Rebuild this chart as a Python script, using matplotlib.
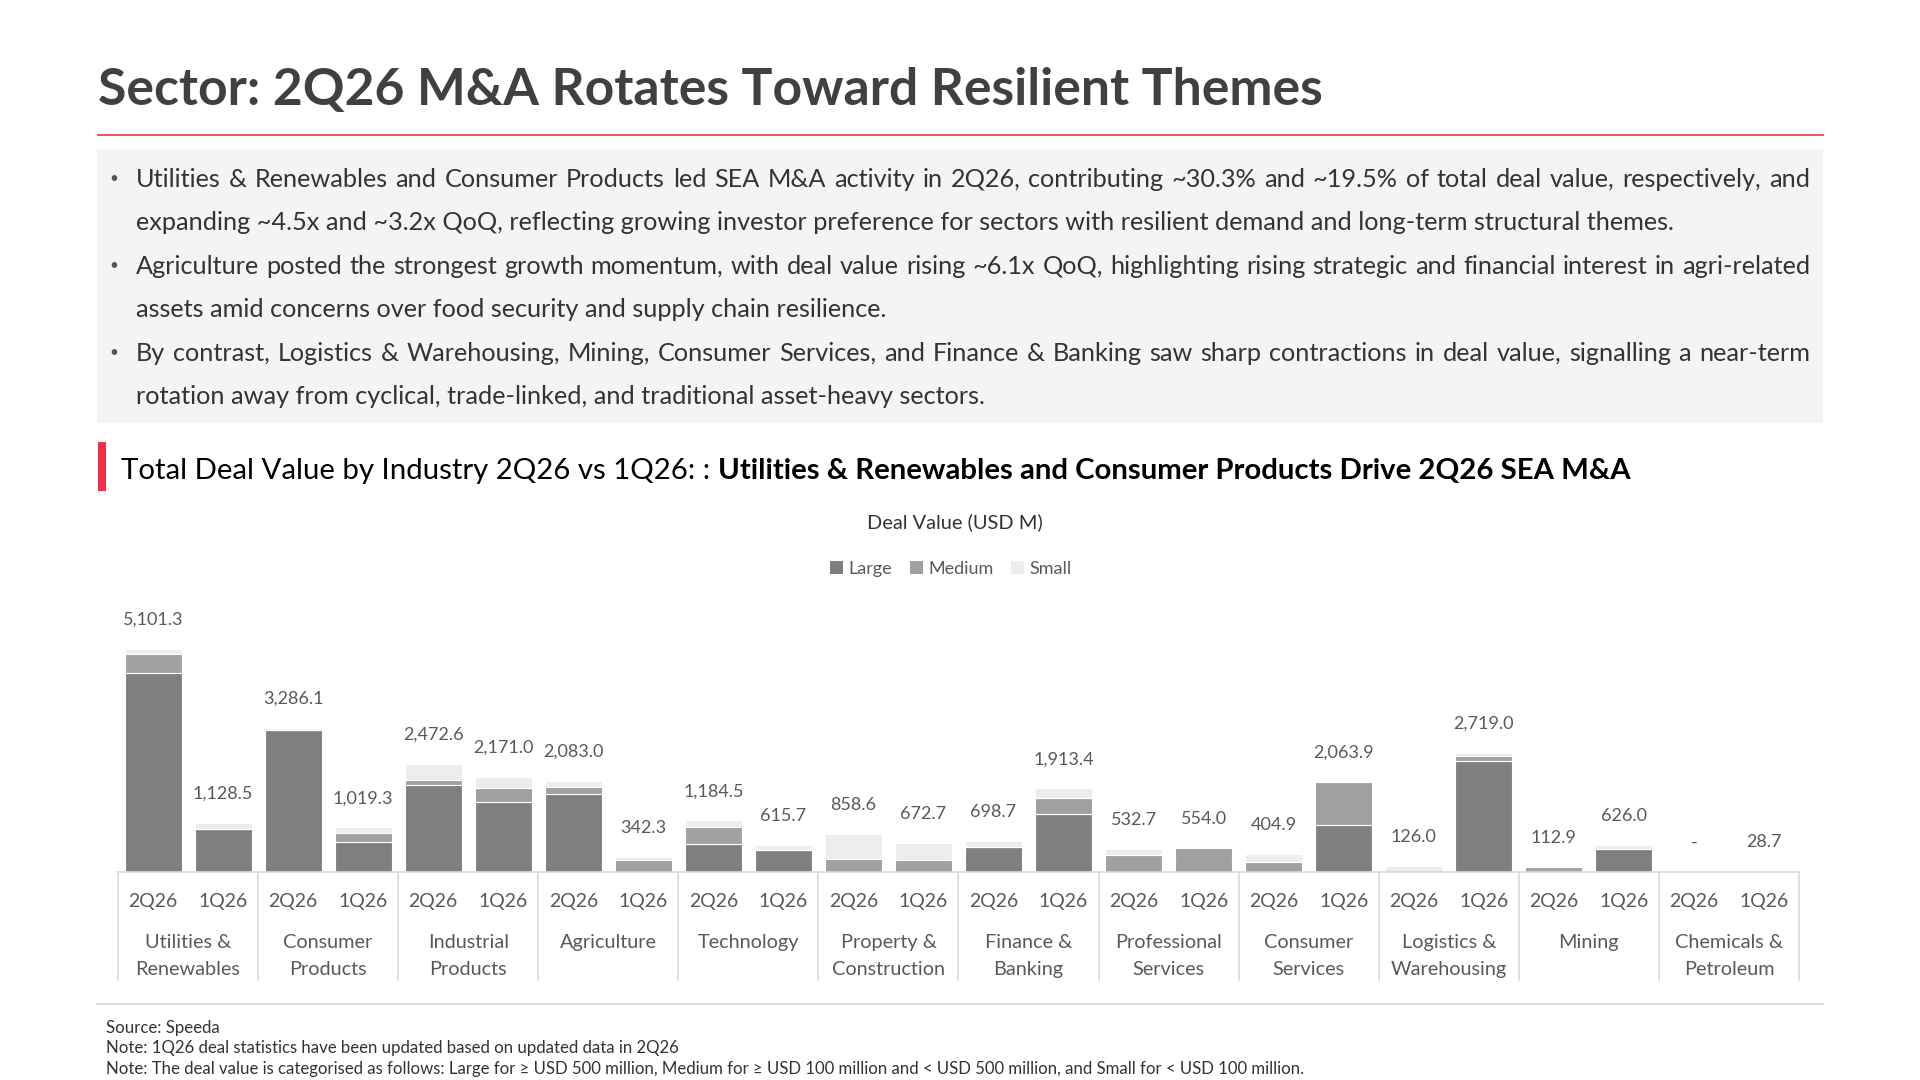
import matplotlib
matplotlib.use("Agg")
import matplotlib.pyplot as plt
from matplotlib.patches import Patch, Rectangle
from matplotlib.lines import Line2D
import numpy as np

FONT = ['Lato', 'DejaVu Sans']
plt.rcParams['font.family'] = FONT

# ---- data (USD M) ----
categories = ["Utilities &\nRenewables", "Consumer\nProducts", "Industrial\nProducts", "Agriculture",
              "Technology", "Property &\nConstruction", "Finance &\nBanking", "Professional\nServices",
              "Consumer\nServices", "Logistics &\nWarehousing", "Mining", "Chemicals &\nPetroleum"]
periods = ["2Q26", "1Q26"]

totals_2q = [5101.3, 3286.1, 2472.6, 2083.0, 1184.5, 858.6, 698.7, 532.7, 404.9, 126.0, 112.9, 0.0]
totals_1q = [1128.5, 1019.3, 2171.0, 342.3, 615.7, 672.7, 1913.4, 554.0, 2063.9, 2719.0, 626.0, 28.7]

large_2q = [4553, 3245, 1995, 1782, 647, 0, 571, 0, 0, 0, 0, 0]
medium_2q = [420, 0, 100, 152, 381, 305, 0, 388, 221, 0, 112.9, 0]
small_2q = [128.3, 41.1, 377.6, 149.0, 156.5, 553.6, 127.7, 144.7, 183.9, 126.0, 0, 0]

large_1q = [990, 693, 1591, 0, 495, 0, 1317, 0, 1074, 2528, 525, 0]
medium_1q = [0, 198, 320, 274, 0, 274, 381, 554, 990, 114, 0, 0]
small_1q = [138.5, 128.3, 260, 68.3, 120.7, 398.7, 215.4, 0, 0, 77, 101, 28.7]

seg_colors = {"Large": "#7f7f7f", "Medium": "#a0a0a0", "Small": "#ededed"}

title = "Sector: 2Q26 M&A Rotates Toward Resilient Themes"
subtitle_a = "Total Deal Value by Industry 2Q26 vs 1Q26: : "
subtitle_b = "Utilities & Renewables and Consumer Products Drive 2Q26 SEA M&A"
bullets = [
    ("Utilities & Renewables and Consumer Products led SEA M&A activity in 2Q26, contributing ~30.3% and ~19.5% of total deal value, respectively, and", True, True),
    ("expanding ~4.5x and ~3.2x QoQ, reflecting growing investor preference for sectors with resilient demand and long-term structural themes.", False, False),
    ("Agriculture posted the strongest growth momentum, with deal value rising ~6.1x QoQ, highlighting rising strategic and financial interest in agri-related", True, True),
    ("assets amid concerns over food security and supply chain resilience.", False, False),
    ("By contrast, Logistics & Warehousing, Mining, Consumer Services, and Finance & Banking saw sharp contractions in deal value, signalling a near-term", True, True),
    ("rotation away from cyclical, trade-linked, and traditional asset-heavy sectors.", False, False),
]
notes = ["Source: Speeda",
         "Note: 1Q26 deal statistics have been updated based on updated data in 2Q26",
         "Note: The deal value is categorised as follows: Large for \u2265 USD 500 million, Medium for \u2265 USD 100 million and < USD 500 million, and Small for < USD 100 million."]

W, H = 1920, 1080
fig = plt.figure(figsize=(W / 100, H / 100), dpi=100)
fig.patch.set_facecolor("white")
renderer = fig.canvas.get_renderer()


def fx(px):
    return px / W


def fy(py):
    return 1 - py / H


def width_px(s, size, weight="normal"):
    t = fig.text(0, 0, s, fontsize=size, fontweight=weight)
    w = t.get_window_extent(renderer).width
    t.remove()
    return w


def fit_size(s, target, weight="normal"):
    return 20 * target / width_px(s, 20, weight)


# ---- header ----
ts = fit_size(title, 1224, "bold")
fig.text(fx(98), fy(105), title, fontsize=ts, fontweight="bold", color="#404040", va="baseline")
fig.add_artist(Line2D([fx(98), fx(1823)], [fy(135), fy(135)], color="#e8455c", lw=1.3))

# grey summary box
fig.add_artist(Rectangle((fx(97), fy(423)), fx(1823) - fx(97), fy(149) - fy(423),
                         facecolor="#f4f4f4", edgecolor="none"))

bs = fit_size(bullets[1][0], 1545)
left, right = 136, 1810
for i, (line, has_dot, justify) in enumerate(bullets):
    base = 187 + i * 43.4
    if has_dot:
        fig.text(fx(114), fy(base - 4), "\u2022", fontsize=bs * 0.6, color="#555555", va="baseline", ha="center")
    if justify:
        words = line.split(" ")
        widths = [width_px(w, bs) for w in words]
        gap = (right - left - sum(widths)) / (len(words) - 1)
        x = left
        for w, wd in zip(words, widths):
            fig.text(fx(x), fy(base), w, fontsize=bs, color="#333333", va="baseline")
            x += wd + gap
    else:
        fig.text(fx(left), fy(base), line, fontsize=bs, color="#333333", va="baseline")

# sub-heading
fig.add_artist(Rectangle((fx(98), fy(491)), fx(106) - fx(98), fy(442) - fy(491),
                         facecolor="#f2304a", edgecolor="none"))
ss = 20 * 1509 / (width_px(subtitle_a, 20) + width_px(subtitle_b, 20, "bold"))
fig.text(fx(121), fy(479), subtitle_a, fontsize=ss, color="black", va="baseline")
fig.text(fx(121 + width_px(subtitle_a, ss)), fy(479), subtitle_b, fontsize=ss,
         fontweight="bold", color="black", va="baseline")

fig.text(fx(955), fy(522), "Deal Value (USD M)", fontsize=fit_size("Deal Value (USD M)", 176),
         color="#333333", ha="center", va="center")

handles = [Patch(facecolor=c, edgecolor="none", label=k) for k, c in seg_colors.items()]
leg = fig.legend(handles=handles, loc="center", bbox_to_anchor=(fx(951), fy(569)), ncol=3,
                 frameon=False, fontsize=13, handlelength=0.7, handleheight=0.7,
                 handletextpad=0.3, columnspacing=1.0)
for t in leg.get_texts():
    t.set_color("#595959")

# ---- chart ----
ax_l, ax_r, ax_b, ax_t = 118, 1799, 872, 480
ax = fig.add_axes([fx(ax_l), fy(ax_b), fx(ax_r) - fx(ax_l), fy(ax_t) - fy(ax_b)])
per_px = 5101.3 / 223.4
ax.set_ylim(0, (ax_b - ax_t) * per_px)
ax.set_xlim(0, len(categories))
n = len(categories)
xc = np.arange(n) + 0.5
off = 35 / 140
bw = 57 / 140

series = [(periods[0], xc - off, large_2q, medium_2q, small_2q, totals_2q),
          (periods[1], xc + off, large_1q, medium_1q, small_1q, totals_1q)]
for per, xs, lg, md, sm, tot in series:
    lg = np.array(lg, float)
    md = np.array(md, float)
    sm = np.array(sm, float)
    ax.bar(xs, lg, bw, color=seg_colors["Large"], edgecolor="white", linewidth=0.8)
    ax.bar(xs, md, bw, bottom=lg, color=seg_colors["Medium"], edgecolor="white", linewidth=0.8)
    ax.bar(xs, sm, bw, bottom=lg + md, color=seg_colors["Small"], edgecolor="white", linewidth=0.8)
    for x, v in zip(xs, tot):
        lab = f"{v:,.1f}" if v > 0 else "-"
        ax.annotate(lab, (x, v), xytext=(0, 29 * 0.72), textcoords="offset points",
                    ha="center", va="center", fontsize=13, color="#595959")
        ax.annotate(per, (x, 0), xytext=(0, -30 * 0.72), textcoords="offset points",
                    ha="center", va="center", fontsize=14, color="#595959")

for i, c in enumerate(categories):
    ax.annotate(c, (xc[i], 0), xytext=(0, -62 * 0.72), textcoords="offset points",
                ha="center", va="top", fontsize=14.3, color="#595959", linespacing=1.7)

for b in range(n + 1):
    ax.plot([b, b], [0, -108 * per_px], color="#d9d9d9", lw=1.2, clip_on=False)

for s in ["top", "left", "right"]:
    ax.spines[s].set_visible(False)
ax.spines["bottom"].set_color("#d9d9d9")
ax.spines["bottom"].set_linewidth(1.2)
ax.set_xticks([])
ax.set_yticks([])
ax.patch.set_alpha(0)

# ---- footnotes ----
fig.add_artist(Line2D([fx(97), fx(1823)], [fy(1004), fy(1004)], color="#d9d9d9", lw=1.2))
fs = fit_size(notes[2], 1202)
for i, s in enumerate(notes):
    fig.text(fx(106), fy(1028 + i * 20.5), s, fontsize=fs, color="#333333", va="center")

fig.savefig("out.png", dpi=100)
